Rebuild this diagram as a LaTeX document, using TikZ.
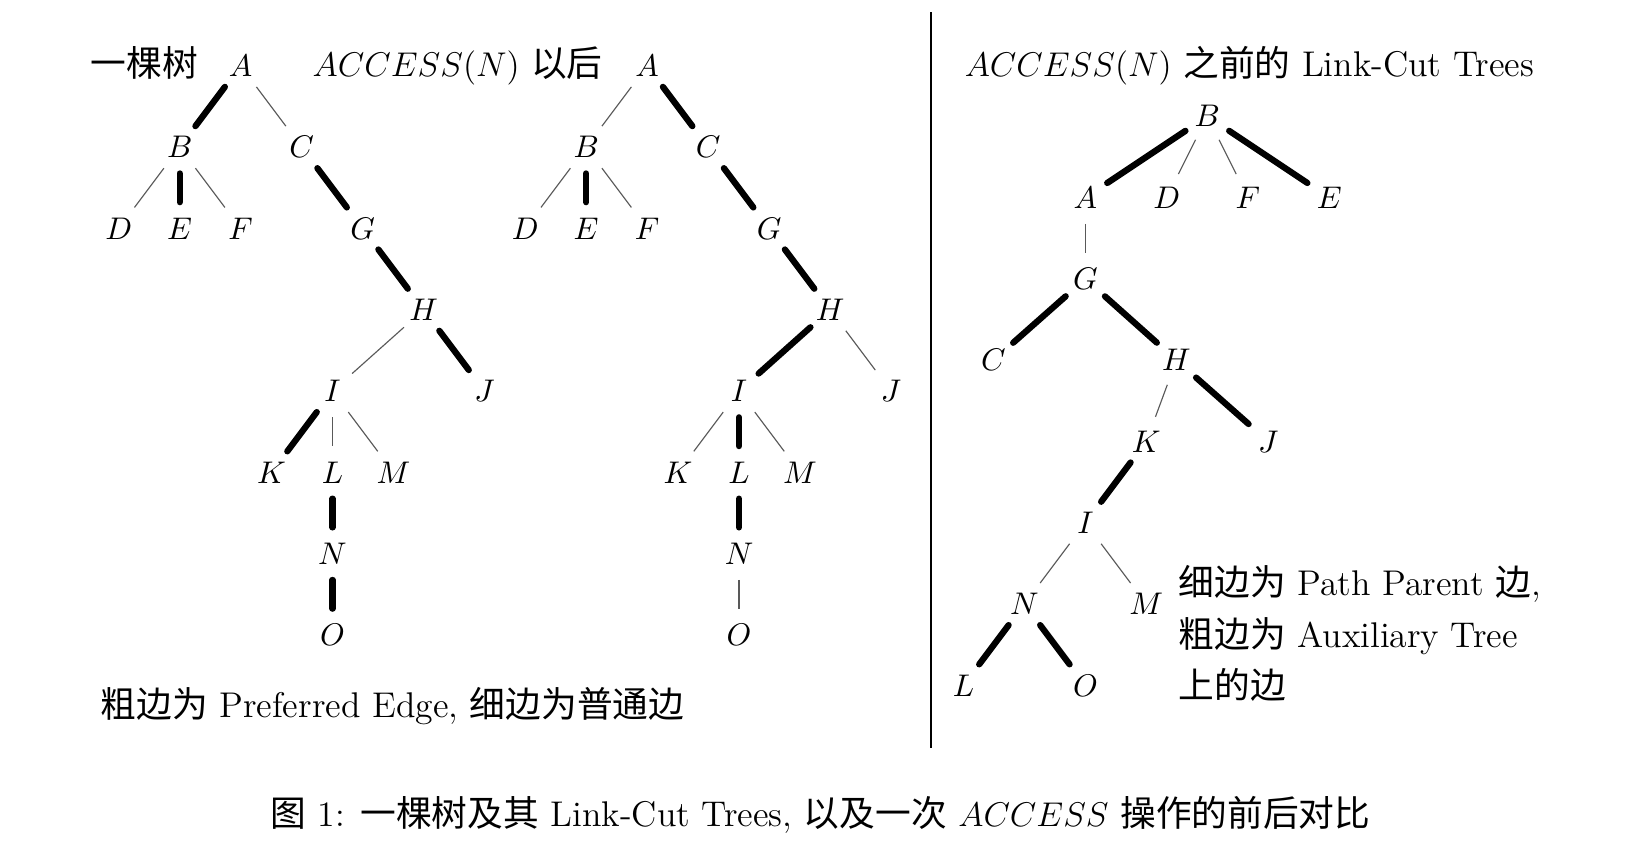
\documentclass[tikz,border=0pt]{standalone}
\usepackage{fontspec}
\newfontfamily\cjk{Noto Sans CJK SC}
\begin{document}
\begin{tikzpicture}[
        vert/.style={circle, inner sep=0pt, minimum size=18pt, font=\fontsize{11pt}{13pt}\selectfont},
        heavyedge/.style={line width=2.2pt, line cap=round},
        lightedge/.style={line width=0.4pt, black!65},
        lbl/.style={inner sep=0pt, font=\fontsize{12.5pt}{15pt}\selectfont}
    ]
            % fix the page size
            \useasboundingbox (0,0) rectangle (20.246,-10.578);

            % the tree
            \node[vert] (oA) at (2.96,-0.81) {$A$};
            \node[vert] (oB) at (2.21,-1.81) {$B$};
            \node[vert] (oC) at (3.71,-1.81) {$C$};
            \node[vert] (oD) at (1.46,-2.81) {$D$};
            \node[vert] (oE) at (2.21,-2.81) {$E$};
            \node[vert] (oF) at (2.96,-2.81) {$F$};
            \node[vert] (oG) at (4.46,-2.81) {$G$};
            \node[vert] (oH) at (5.21,-3.81) {$H$};
            \node[vert] (oI) at (4.09,-4.81) {$I$};
            \node[vert] (oJ) at (5.96,-4.81) {$J$};
            \node[vert] (oK) at (3.34,-5.81) {$K$};
            \node[vert] (oL) at (4.09,-5.81) {$L$};
            \node[vert] (oM) at (4.84,-5.81) {$M$};
            \node[vert] (oN) at (4.09,-6.81) {$N$};
            \node[vert] (oO) at (4.09,-7.81) {$O$};

            \draw[heavyedge] (oA) -- (oB);
            \draw[lightedge] (oA) -- (oC);
            \draw[lightedge] (oB) -- (oD);
            \draw[heavyedge] (oB) -- (oE);
            \draw[lightedge] (oB) -- (oF);
            \draw[heavyedge] (oC) -- (oG);
            \draw[heavyedge] (oG) -- (oH);
            \draw[lightedge] (oH) -- (oI);
            \draw[heavyedge] (oH) -- (oJ);
            \draw[heavyedge] (oI) -- (oK);
            \draw[lightedge] (oI) -- (oL);
            \draw[lightedge] (oI) -- (oM);
            \draw[heavyedge] (oL) -- (oN);
            \draw[heavyedge] (oN) -- (oO);

            % the tree after the access
            \node[vert] (xA) at (7.96,-0.81) {$A$};
            \node[vert] (xB) at (7.21,-1.81) {$B$};
            \node[vert] (xC) at (8.71,-1.81) {$C$};
            \node[vert] (xD) at (6.46,-2.81) {$D$};
            \node[vert] (xE) at (7.21,-2.81) {$E$};
            \node[vert] (xF) at (7.96,-2.81) {$F$};
            \node[vert] (xG) at (9.46,-2.81) {$G$};
            \node[vert] (xH) at (10.21,-3.81) {$H$};
            \node[vert] (xI) at (9.09,-4.81) {$I$};
            \node[vert] (xJ) at (10.96,-4.81) {$J$};
            \node[vert] (xK) at (8.34,-5.81) {$K$};
            \node[vert] (xL) at (9.09,-5.81) {$L$};
            \node[vert] (xM) at (9.84,-5.81) {$M$};
            \node[vert] (xN) at (9.09,-6.81) {$N$};
            \node[vert] (xO) at (9.09,-7.81) {$O$};

            \draw[lightedge] (xA) -- (xB);
            \draw[heavyedge] (xA) -- (xC);
            \draw[lightedge] (xB) -- (xD);
            \draw[heavyedge] (xB) -- (xE);
            \draw[lightedge] (xB) -- (xF);
            \draw[heavyedge] (xC) -- (xG);
            \draw[heavyedge] (xG) -- (xH);
            \draw[heavyedge] (xH) -- (xI);
            \draw[lightedge] (xH) -- (xJ);
            \draw[lightedge] (xI) -- (xK);
            \draw[heavyedge] (xI) -- (xL);
            \draw[lightedge] (xI) -- (xM);
            \draw[heavyedge] (xL) -- (xN);
            \draw[lightedge] (xN) -- (xO);

            % place tree labels
            \node[lbl, anchor=base east] (oTitle) at (2.44,-0.945) {\cjk 一棵树};
            \node[lbl, anchor=base east] (xTitle) at (7.42,-0.945) {$ACCESS(N)$ {\cjk 以后}};
            \node[lbl, anchor=base west] (oNote) at (1.23,-8.82) {{\cjk 粗边为} Preferred Edge, {\cjk 细边为普通边}};

            % draw separating line
            \coordinate (sepTop) at (11.45,-0.15);
            \coordinate (sepBot) at (11.45,-9.2);
            \draw[line width=0.7pt] (sepTop) -- (sepBot);

            % the link-cut trees
            \node[vert] (lB) at (14.85,-1.43) {$B$};
            \node[vert] (lA) at (13.35,-2.43) {$A$};
            \node[vert] (lD) at (14.35,-2.43) {$D$};
            \node[vert] (lF) at (15.35,-2.43) {$F$};
            \node[vert] (lE) at (16.35,-2.43) {$E$};
            \node[vert] (lG) at (13.35,-3.43) {$G$};
            \node[vert] (lC) at (12.22,-4.43) {$C$};
            \node[vert] (lH) at (14.47,-4.43) {$H$};
            \node[vert] (lK) at (14.10,-5.43) {$K$};
            \node[vert] (lJ) at (15.60,-5.43) {$J$};
            \node[vert] (lI) at (13.35,-6.43) {$I$};
            \node[vert] (lN) at (12.60,-7.43) {$N$};
            \node[vert] (lM) at (14.10,-7.43) {$M$};
            \node[vert] (lL) at (11.85,-8.43) {$L$};
            \node[vert] (lO) at (13.35,-8.43) {$O$};

            \draw[heavyedge] (lB) -- (lA);
            \draw[lightedge] (lB) -- (lD);
            \draw[lightedge] (lB) -- (lF);
            \draw[heavyedge] (lB) -- (lE);
            \draw[lightedge] (lA) -- (lG);
            \draw[heavyedge] (lG) -- (lC);
            \draw[heavyedge] (lG) -- (lH);
            \draw[lightedge] (lH) -- (lK);
            \draw[heavyedge] (lH) -- (lJ);
            \draw[heavyedge] (lK) -- (lI);
            \draw[lightedge] (lI) -- (lN);
            \draw[lightedge] (lI) -- (lM);
            \draw[heavyedge] (lN) -- (lL);
            \draw[heavyedge] (lN) -- (lO);

            % place link-cut labels
            \node[lbl, anchor=base west] (lTitle) at (11.86,-0.935) {$ACCESS(N)$ {\cjk 之前的} Link-Cut Trees};
            \node[lbl, anchor=base west] (lNoteA) at (14.49,-7.33) {{\cjk 细边为} Path Parent {\cjk 边},};
            \node[lbl, anchor=base west] (lNoteB) at (14.49,-7.96) {{\cjk 粗边为} Auxiliary Tree};
            \node[lbl, anchor=base west] (lNoteC) at (14.49,-8.59) {\cjk 上的边};

            % caption
            \node[lbl, anchor=base] (caption) at (10.09,-10.16) {{\cjk 图} 1: {\cjk 一棵树及其} Link-Cut Trees, {\cjk 以及一次} $ACCESS$ {\cjk 操作的前后对比}};
        \end{tikzpicture}
\end{document}
